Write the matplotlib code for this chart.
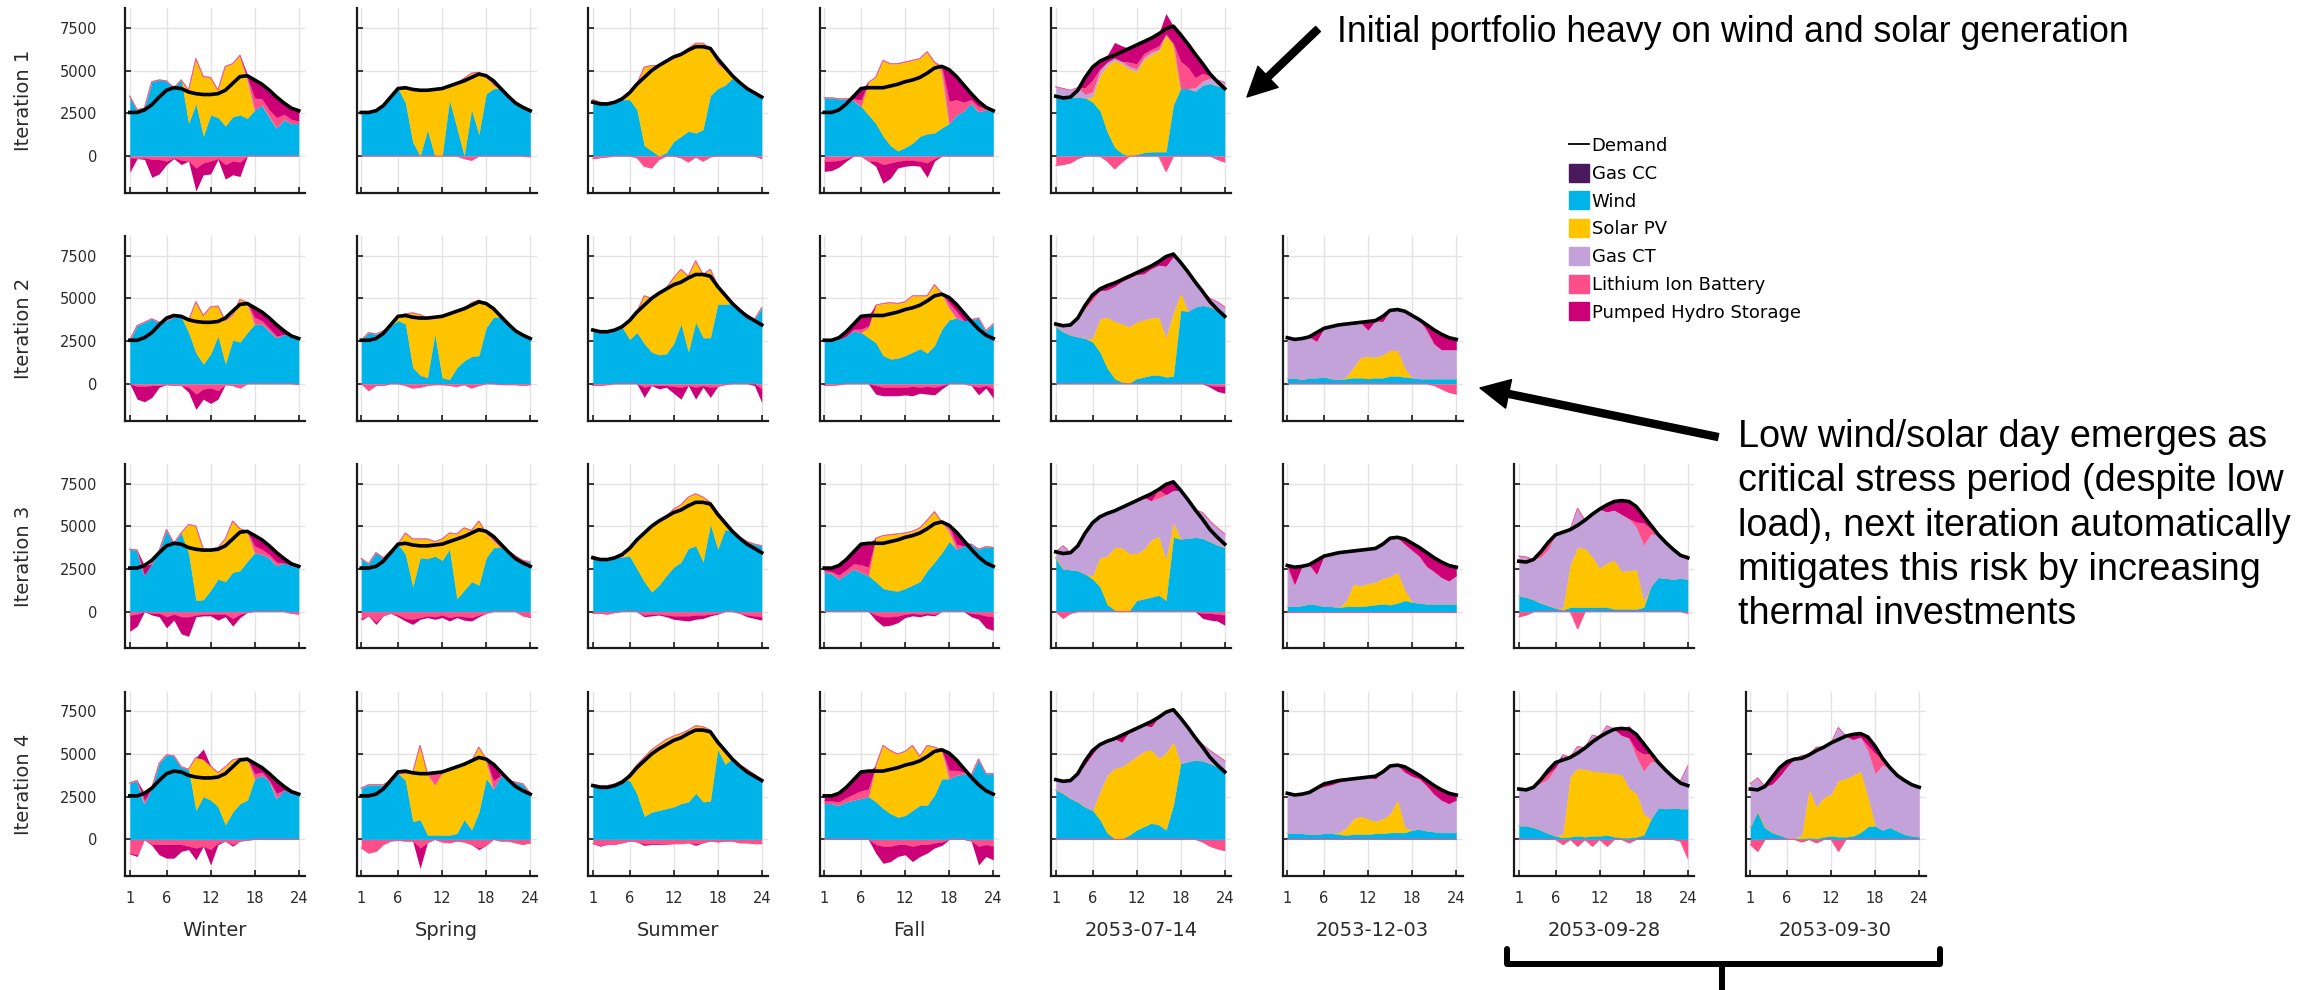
import numpy as np
import matplotlib
matplotlib.use('Agg')
import matplotlib.pyplot as plt
from matplotlib.patches import Patch, FancyArrowPatch
from matplotlib.lines import Line2D

plt.rcParams['font.family'] = 'DejaVu Sans'

W, H = 2306, 990

hours = np.arange(1, 25)
periods = ['Winter', 'Spring', 'Summer', 'Fall', '2053-07-14', '2053-12-03', '2053-09-28', '2053-09-30']
iterations = ['Iteration 1', 'Iteration 2', 'Iteration 3', 'Iteration 4']
hour_ticks = [1, 6, 12, 18, 24]
mw_ticks = [0, 2500, 5000, 7500]

# demand (MW), same in every iteration
demand_winter = [2550, 2550, 2700, 3000, 3450, 3850, 4000, 3950, 3750, 3650, 3600, 3600, 3650, 3850, 4250, 4650, 4700, 4450, 4200, 3850, 3450, 3100, 2800, 2650]
demand_spring = [2550, 2550, 2650, 2950, 3450, 3950, 4000, 3900, 3850, 3850, 3900, 3950, 4100, 4250, 4400, 4600, 4800, 4700, 4400, 3950, 3500, 3100, 2850, 2650]
demand_summer = [3150, 3050, 3050, 3150, 3350, 3700, 4200, 4600, 5000, 5300, 5550, 5800, 5950, 6200, 6400, 6400, 6300, 5700, 5200, 4700, 4300, 3950, 3700, 3450]
demand_fall = [2550, 2550, 2700, 3050, 3500, 3950, 4000, 4000, 4000, 4100, 4200, 4350, 4450, 4600, 4850, 5150, 5250, 5050, 4650, 4150, 3650, 3200, 2850, 2650]
demand_jul14 = [3500, 3400, 3450, 3850, 4600, 5200, 5550, 5750, 5900, 6100, 6300, 6500, 6700, 6900, 7150, 7450, 7600, 7100, 6550, 5950, 5400, 4800, 4350, 3950]
demand_dec03 = [2700, 2600, 2650, 2750, 3000, 3250, 3350, 3450, 3500, 3550, 3600, 3650, 3700, 3950, 4300, 4350, 4250, 4000, 3750, 3450, 3150, 2900, 2700, 2600]
demand_sep28 = [2950, 2900, 3050, 3500, 4050, 4500, 4650, 4800, 5050, 5350, 5700, 6000, 6250, 6450, 6500, 6450, 6150, 5600, 5050, 4500, 4050, 3650, 3300, 3150]
demand_sep30 = [2950, 2900, 3100, 3650, 4200, 4550, 4700, 4750, 4950, 5200, 5400, 5650, 5850, 6050, 6150, 6200, 6000, 5450, 4750, 4200, 3750, 3450, 3200, 3050]

# iteration 1  (storage: + discharge, - charge)
wind_1_winter = [3500, 2700, 2800, 4350, 4450, 4400, 4000, 4450, 1900, 3050, 1150, 2400, 2250, 1750, 2300, 2400, 2200, 2700, 3000, 2300, 1650, 2150, 1900, 1900]
solar_1_winter = [0, 0, 0, 0, 0, 0, 0, 0, 1950, 2650, 3500, 2200, 1600, 3500, 3100, 3500, 2300, 0, 0, 0, 0, 0, 0, 0]
bat_1_winter = [-100, -150, -100, -200, -200, -300, -100, -250, -300, -700, -400, -300, -150, -500, -300, -350, 100, 700, 350, 400, 600, 300, 250, 150]
phs_1_winter = [-850, 0, -100, -1050, -850, -200, -50, -250, 0, -1350, -700, -750, -50, -850, -800, -850, 200, 1050, 850, 1150, 1200, 650, 650, 600]

wind_1_spring = [2550, 2550, 2650, 2950, 3450, 3950, 3100, 800, 0, 1500, 0, 0, 3250, 1650, 0, 2700, 1250, 3650, 3950, 3950, 3500, 3100, 2850, 2650]
solar_1_spring = [0, 0, 0, 0, 0, 0, 900, 3100, 3850, 2350, 3900, 3950, 850, 2600, 4550, 2150, 3650, 1000, 200, 0, 0, 0, 0, 0]
bat_1_spring = [0, 0, 0, 0, 0, 0, 0, 0, 0, 0, 0, 0, 0, 0, -150, -250, 0, 100, 250, 0, 0, 0, 0, -50]

wind_1_summer = [3300, 3150, 3050, 3150, 3300, 3300, 2700, 600, 300, 0, 200, 850, 1150, 1450, 1350, 1550, 3550, 3950, 4150, 4550, 4300, 3950, 3700, 3450]
solar_1_summer = [0, 0, 0, 0, 0, 400, 1500, 4600, 5000, 5300, 5300, 4950, 4800, 4850, 5250, 5050, 2750, 1450, 900, 150, 0, 0, 0, 0]
bat_1_summer = [-150, -100, -50, 0, 0, 0, -100, -600, -700, -200, 0, 0, -100, -350, -50, -300, -50, 200, 150, 0, 0, 0, 0, -150]
phs_1_summer = [0, 0, 0, 0, 0, 0, 0, 0, 0, 0, 0, 0, 0, 0, 0, 0, 0, 100, 0, 0, 0, 0, 0, 0]

wind_1_fall = [3400, 3400, 3350, 3350, 3250, 2900, 2400, 1900, 1150, 600, 300, 500, 750, 1150, 1300, 1350, 1650, 1900, 2400, 2650, 3100, 2600, 2700, 2600]
solar_1_fall = [0, 0, 0, 0, 0, 0, 1900, 2700, 4450, 4800, 5100, 5000, 4850, 4550, 4800, 4150, 3300, 0, 0, 0, 0, 0, 0, 0]
bat_1_fall = [-300, -300, -250, -150, 100, 400, -300, -300, -500, -400, -300, -250, -250, -300, -400, -150, 300, 1300, 900, 500, 200, 300, 100, 0]
phs_1_fall = [-600, -550, -400, -150, 150, 650, 0, -300, -1100, -900, -400, -350, -300, -300, -850, -150, 0, 1800, 1350, 1000, 400, 300, 100, 50]

wind_1_jul14 = [3550, 3450, 3450, 3450, 3400, 3150, 2650, 1400, 500, 150, 0, 100, 200, 250, 250, 250, 3000, 3950, 3950, 3800, 4150, 4250, 4100, 4000]
solar_1_jul14 = [0, 0, 0, 0, 0, 300, 2050, 3900, 5100, 5250, 5100, 4850, 5450, 5700, 5900, 6800, 3600, 0, 0, 0, 0, 0, 0, 0]
gas_1_jul14 = [500, 500, 400, 550, 200, 300, 300, 200, 150, 150, 150, 150, 150, 150, 100, 100, 0, 0, 0, 200, 250, 300, 350, 300]
bat_1_jul14 = [-550, -500, -400, -150, 400, 700, 100, -300, -750, -350, 250, 300, 200, 150, 200, -900, 0, 1600, 1250, 600, 450, 150, -200, -350]
phs_1_jul14 = [0, 0, 0, 0, 600, 750, 450, 400, 900, 900, 800, 1100, 700, 650, 700, 1200, 1000, 1550, 1350, 1350, 550, 100, 0, 0]

# iteration 2
wind_2_winter = [2550, 3400, 3600, 3800, 3600, 3700, 3900, 3900, 3000, 1800, 1150, 1750, 2800, 1150, 2550, 2450, 3000, 3500, 3500, 3100, 2700, 2900, 2800, 2700]
solar_2_winter = [0, 0, 0, 0, 0, 0, 0, 0, 700, 3000, 2850, 2750, 1750, 2550, 1450, 2500, 1750, 0, 0, 0, 0, 0, 0, 0]
bat_2_winter = [0, -150, -150, -100, -100, -50, -100, -100, -200, -600, -300, -250, -400, -50, -100, -250, 0, 400, 200, 150, 100, 0, 0, -50]
phs_2_winter = [0, -750, -900, -700, -100, 0, 0, 0, -300, -900, -600, -900, -500, 0, 0, 0, 0, 550, 500, 600, 650, 200, 0, 0]

wind_2_spring = [2550, 3000, 2900, 3100, 3400, 3700, 3500, 950, 500, 350, 2900, 350, 250, 950, 1350, 1600, 1650, 3300, 3900, 3900, 3500, 3100, 2850, 2650]
solar_2_spring = [0, 0, 0, 0, 0, 250, 600, 3200, 3550, 3500, 1000, 3600, 3850, 3350, 3050, 3150, 3250, 1400, 500, 0, 0, 0, 0, 0]
bat_2_spring = [0, -400, -100, -100, 0, 0, -100, -250, -200, -100, -50, -50, -100, -150, -50, -250, -100, 0, 0, -50, -50, -50, -100, -50]

wind_2_summer = [3200, 3100, 3050, 3150, 3300, 2600, 3000, 2350, 1850, 1700, 1750, 2350, 3500, 1850, 3600, 2700, 2700, 4650, 4650, 4700, 4300, 4050, 3750, 4450]
solar_2_summer = [0, 0, 0, 0, 0, 1100, 1200, 2800, 3150, 3600, 3850, 3850, 3200, 4450, 3600, 3700, 4000, 1100, 550, 0, 0, 0, 0, 0]
bat_2_summer = [-100, -100, -50, 0, 0, 0, 0, -200, -100, -100, -100, -150, -200, -100, -200, -100, -200, -150, -50, 0, 0, 0, 0, -300]
phs_2_summer = [0, 0, 0, 0, 0, 0, 0, -600, 0, -200, -100, -400, -700, 0, -700, -100, -600, 0, 0, 0, 0, 0, -100, -800]

wind_2_fall = [2550, 2550, 2600, 2800, 3100, 3000, 2700, 2400, 1650, 1450, 1500, 1650, 1850, 2050, 1800, 2250, 3200, 3750, 3850, 3700, 3750, 3850, 3100, 3500]
solar_2_fall = [0, 0, 0, 0, 0, 0, 600, 2200, 3050, 3300, 3200, 3150, 3300, 3100, 3350, 3550, 2100, 700, 0, 0, 0, 0, 0, 0]
bat_2_fall = [-100, -100, -50, 0, 100, 200, 100, -100, -200, -200, -200, -200, -150, -200, -150, -200, -100, 300, 400, 0, -100, -200, -100, -300]
phs_2_fall = [0, 0, 0, 250, 300, 750, 600, -500, -500, -500, -500, -450, -550, -350, -450, -450, -200, 300, 400, 450, 0, -450, -150, -550]

wind_2_jul14 = [3350, 3050, 2850, 2750, 2650, 2450, 1850, 900, 300, 100, 50, 300, 400, 500, 500, 400, 450, 4300, 4250, 4500, 4600, 4500, 4300, 4100]
solar_2_jul14 = [0, 0, 0, 0, 0, 200, 1950, 3000, 3350, 3400, 3300, 3300, 3350, 3350, 3400, 2300, 3700, 1000, 0, 0, 0, 0, 0, 0]
gas_2_jul14 = [150, 350, 600, 1100, 1750, 2250, 1650, 1600, 2050, 2500, 2850, 2800, 2700, 2900, 3050, 4200, 3300, 1800, 2300, 1450, 700, 500, 500, 400]
bat_2_jul14 = [0, 0, 0, 0, 100, 150, 0, 0, 0, 0, 0, 0, 0, 0, 0, 0, 0, 0, 0, 0, 100, -100, -150, -150]
phs_2_jul14 = [0, 0, 0, 0, 100, 150, 100, 250, 200, 100, 100, 100, 250, 150, 200, 550, 150, 0, 0, 0, 0, -100, -300, -400]

wind_2_dec03 = [300, 350, 250, 350, 350, 400, 300, 250, 300, 350, 350, 300, 350, 350, 450, 450, 400, 350, 300, 300, 300, 300, 300, 300]
solar_2_dec03 = [0, 0, 0, 0, 0, 0, 0, 0, 100, 600, 1200, 1300, 1200, 1350, 1500, 1500, 500, 0, 0, 0, 0, 0, 0, 0]
gas_2_dec03 = [2400, 2250, 2400, 2400, 2150, 2850, 3050, 3200, 3100, 2600, 2050, 1550, 2150, 1950, 2350, 2400, 3350, 3650, 3450, 2850, 2050, 1700, 1700, 1700]
bat_2_dec03 = [0, 0, 0, 0, 0, 0, 0, 0, 0, 0, 0, 0, 0, 0, 0, 0, 0, 0, 0, 0, -100, -300, -500, -600]
phs_2_dec03 = [0, 0, 0, 0, 500, 0, 0, 0, 0, 0, 0, 500, 0, 300, 0, 0, 0, 0, 0, 300, 800, 900, 700, 600]

# iteration 3
wind_3_winter = [3650, 3600, 2150, 2800, 3550, 4800, 4000, 4600, 3400, 650, 700, 1250, 1900, 1750, 2300, 2400, 2950, 3450, 3350, 3150, 2700, 2850, 2700, 2600]
solar_3_winter = [0, 0, 0, 0, 0, 0, 0, 0, 1700, 4350, 2950, 2400, 1850, 2500, 3000, 2450, 1750, 0, 0, 0, 0, 0, 0, 0]
bat_3_winter = [-200, -150, 0, -100, -100, -300, -150, -300, -300, -200, -150, -150, -150, -150, -400, -150, -50, 400, 300, 200, 200, 0, -100, -150]
phs_3_winter = [-950, -700, 550, -100, -200, -650, -350, -1000, -1150, -100, -100, -100, -350, -150, -450, -200, 0, 600, 550, 500, 550, 250, 100, 0]

wind_3_spring = [3100, 2800, 3450, 3150, 3550, 3950, 3350, 1450, 3150, 3100, 3250, 3000, 3650, 750, 1250, 1750, 1550, 3150, 3750, 3750, 3550, 3250, 3000, 2900]
solar_3_spring = [0, 0, 0, 0, 0, 0, 1250, 2800, 1100, 1150, 850, 1250, 950, 3800, 3650, 3000, 3750, 1450, 400, 0, 0, 0, 0, 0]
bat_3_spring = [-400, -250, -600, -250, -100, -200, -400, -450, -350, -250, -300, -200, -350, -250, -300, -350, -200, -100, 250, 0, 0, 0, -250, -300]
phs_3_spring = [-100, 0, -150, 0, 0, -100, -150, -300, -100, -100, -150, -150, -200, -100, -200, -200, -100, 0, 0, 0, 0, 0, 0, -50]

wind_3_summer = [3250, 3100, 3050, 3150, 3200, 3250, 2500, 1750, 1150, 1550, 2100, 2600, 2900, 3700, 3850, 2900, 5100, 3650, 4800, 4700, 4350, 4100, 3950, 3850]
solar_3_summer = [0, 0, 0, 0, 0, 450, 1700, 2850, 3850, 3750, 3450, 3400, 3350, 3000, 3050, 3800, 1300, 2150, 500, 0, 0, 0, 0, 0]
bat_3_summer = [-100, -100, -150, -50, 0, 0, 0, -200, -150, -150, -200, -250, -250, -250, -200, -200, -150, -100, 0, 0, -100, -200, -250, -300]
phs_3_summer = [0, 0, 0, 0, 0, 0, 0, -100, -100, -50, -100, -200, -250, -300, -250, -200, -100, -50, 0, 0, 0, -100, -150, -200]

wind_3_fall = [2300, 2250, 1900, 2200, 2500, 2300, 2100, 1750, 1350, 1250, 1200, 1350, 1550, 1750, 2400, 2900, 3450, 4100, 3650, 3850, 3950, 3650, 3800, 3750]
solar_3_fall = [0, 0, 0, 0, 0, 0, 0, 2550, 3100, 3250, 3350, 3250, 3150, 3150, 2950, 2950, 1800, 600, 0, 0, 0, 0, 0, 0]
bat_3_fall = [100, 100, 250, 250, 300, 450, 500, -200, -300, -300, -250, -150, -100, -150, -100, -150, 0, 300, 300, 0, -100, -150, -250, -300]
phs_3_fall = [150, 200, 550, 600, 700, 1200, 1400, -300, -550, -500, -400, -200, -150, -150, -100, -100, 0, 0, 700, 300, -200, -300, -700, -800]

wind_3_jul14 = [3150, 2500, 2450, 2400, 2200, 1900, 1450, 400, 100, 50, 50, 650, 750, 850, 950, 650, 4350, 4250, 4300, 4350, 4300, 4100, 3900, 3750]
solar_3_jul14 = [0, 0, 0, 0, 0, 200, 1700, 2850, 3650, 3700, 3350, 2750, 2900, 3350, 3450, 2400, 850, 0, 0, 0, 0, 0, 0, 0]
gas_3_jul14 = [350, 1350, 1000, 1450, 2400, 3100, 2400, 2500, 2150, 2350, 2900, 3100, 3050, 2300, 2250, 3800, 1900, 2850, 2250, 1600, 1500, 1200, 1000, 800]
bat_3_jul14 = [0, -400, -100, 0, 0, 0, 0, 0, 0, 0, 0, 0, 0, 0, 500, 0, 0, 0, 0, 0, -100, -100, -150, -200]
phs_3_jul14 = [0, 0, 0, 0, 0, 0, 0, 0, 0, 0, 0, 0, 0, 400, 0, 600, 500, 0, 0, 0, -300, -400, -400, -600]

wind_3_dec03 = [300, 300, 350, 450, 400, 300, 300, 250, 300, 300, 300, 350, 400, 450, 400, 500, 650, 550, 500, 450, 450, 450, 450, 450]
solar_3_dec03 = [0, 0, 0, 0, 0, 0, 0, 0, 300, 1300, 1200, 1300, 1300, 1500, 1650, 1800, 600, 0, 0, 0, 0, 0, 0, 0]
gas_3_dec03 = [2400, 1300, 2300, 2300, 1800, 2950, 3050, 3200, 2900, 1950, 2100, 2000, 2000, 2000, 2250, 2050, 2700, 3050, 2750, 2200, 1900, 1550, 1350, 1650]
phs_3_dec03 = [0, 1000, 0, 0, 800, 0, 0, 0, 0, 0, 0, 0, 0, 0, 0, 0, 300, 400, 500, 800, 800, 900, 900, 500]

wind_3_sep28 = [900, 850, 700, 500, 350, 200, 100, 250, 250, 250, 250, 250, 250, 150, 150, 150, 150, 250, 1500, 2000, 1950, 1900, 1950, 1900]
solar_3_sep28 = [0, 0, 0, 0, 0, 0, 100, 2500, 3500, 3450, 2950, 2300, 2600, 2850, 2200, 2250, 2300, 350, 0, 0, 0, 0, 0, 0]
gas_3_sep28 = [2350, 2350, 2350, 2700, 3300, 4300, 4450, 2050, 2300, 1650, 2500, 3450, 3000, 2950, 3350, 3050, 2500, 3300, 3050, 2500, 2100, 1750, 1350, 1350]
bat_3_sep28 = [-300, -200, 0, 300, 400, 0, 0, 0, -1000, 0, 0, 0, 0, 0, 0, 0, 300, 1300, 300, 0, 0, 0, 0, -100]
phs_3_sep28 = [0, 0, 0, 0, 0, 0, 0, 0, 0, 0, 0, 0, 400, 500, 800, 1000, 900, 400, 200, 0, 0, 0, 0, 0]

# iteration 4
wind_4_winter = [3300, 3450, 2100, 3000, 4450, 4950, 4900, 4250, 4100, 1700, 2500, 2300, 1900, 850, 1600, 2100, 2300, 3550, 3750, 3450, 2400, 2900, 2700, 2600]
solar_4_winter = [0, 0, 0, 0, 0, 0, 0, 0, 0, 3100, 2200, 2000, 2000, 3400, 3050, 2650, 2450, 0, 0, 0, 0, 0, 0, 0]
bat_4_winter = [-800, -900, 200, -300, -300, -300, -300, -300, -400, -500, -400, -600, -200, -100, -300, -100, -50, 300, 200, 0, 300, 0, 0, 0]
phs_4_winter = [-50, -100, 400, -50, -600, -800, -800, -400, -200, -700, 600, -900, -100, 0, -100, 0, 0, 600, 250, 400, 750, 200, 100, 50]

wind_4_spring = [3000, 3200, 3200, 3200, 3450, 3850, 3450, 1050, 1150, 250, 250, 250, 250, 350, 1150, 550, 1600, 3550, 2950, 3750, 3450, 3350, 3250, 2700]
solar_4_spring = [0, 0, 0, 0, 0, 0, 400, 2850, 4350, 3600, 2950, 3650, 3900, 3850, 3300, 4000, 3800, 1150, 0, 0, 0, 0, 0, 0]
bat_4_spring = [-500, -800, -700, -300, -100, -50, -100, -100, -500, -200, 700, -150, -200, -100, -150, -300, -500, -350, 500, -100, -100, -200, -300, -200]
phs_4_spring = [0, 0, 0, 0, 0, 0, 0, 0, -1200, 0, 0, 0, 0, 0, 0, 0, -100, 0, 950, 0, 0, 0, 0, 0]

wind_4_summer = [3200, 3150, 3150, 3250, 3450, 3450, 2650, 1350, 1600, 1700, 1800, 1900, 2100, 2200, 2700, 2200, 2250, 5250, 4400, 4750, 4350, 4100, 3800, 3500]
solar_4_summer = [0, 0, 0, 0, 0, 350, 1700, 3450, 3650, 3850, 4050, 4150, 4100, 4200, 3950, 4400, 4150, 450, 700, 0, 0, 0, 0, 0]
bat_4_summer = [-250, -350, -300, -300, -200, -100, -150, -250, -250, -250, -300, -250, -250, -200, -250, -200, -100, -150, -100, -100, -200, -200, -250, -250]
phs_4_summer = [0, -50, 0, 0, 0, 0, 0, -100, -50, -50, 0, 0, 0, 0, -100, 0, 0, 0, 0, 0, 0, 0, 0, 0]

wind_4_fall = [2100, 2100, 2000, 2200, 2300, 2400, 2500, 2200, 1800, 1500, 1300, 1400, 1700, 2000, 2000, 2600, 3550, 3550, 3750, 3850, 3750, 4700, 3850, 3850]
solar_4_fall = [0, 0, 0, 0, 0, 0, 0, 2100, 3700, 3700, 3700, 3750, 3800, 2850, 3500, 2800, 1700, 0, 0, 0, 0, 0, 0, 0]
bat_4_fall = [150, 150, 200, 250, 350, 450, 450, -300, -400, -400, -300, -300, -400, -300, -300, -200, -150, 500, 300, 100, -100, -400, -300, -400]
phs_4_fall = [300, 300, 500, 600, 850, 1100, 1050, -500, -1000, -900, -700, -600, -900, -700, -500, -300, -200, 1000, 600, 200, 0, -1100, -700, -800]

wind_4_jul14 = [2900, 2700, 2400, 2200, 1900, 1700, 1150, 350, 50, 50, 250, 550, 750, 950, 850, 550, 2000, 4450, 4550, 4650, 4600, 4450, 4250, 4050]
solar_4_jul14 = [0, 0, 0, 0, 0, 0, 1600, 3400, 4100, 4200, 4300, 4300, 4400, 4300, 3900, 4500, 3700, 0, 0, 0, 0, 0, 0, 0]
gas_4_jul14 = [600, 700, 1050, 1650, 2500, 3300, 2800, 2000, 1750, 1450, 1750, 1650, 1550, 1350, 2400, 2400, 1900, 2650, 2000, 1300, 950, 750, 650, 550]
bat_4_jul14 = [0, 0, 0, 0, 0, 0, 0, 0, 0, 0, 0, 0, 0, 0, 0, 0, 0, 0, 0, 0, -150, -400, -550, -650]
phs_4_jul14 = [0, 0, 0, 0, 200, 200, 0, 0, 0, 400, 0, 0, 0, 300, 0, 0, 0, 0, 0, 0, 0, 0, 0, 0]

wind_4_dec03 = [350, 350, 350, 300, 300, 350, 350, 300, 250, 300, 300, 300, 350, 350, 400, 400, 400, 550, 600, 500, 450, 400, 400, 400]
solar_4_dec03 = [0, 0, 0, 0, 0, 0, 0, 100, 400, 900, 1050, 900, 700, 850, 1100, 1900, 300, 0, 0, 0, 0, 0, 0, 0]
gas_4_dec03 = [2350, 2250, 2300, 2450, 2700, 2750, 2850, 2950, 2850, 2350, 2250, 2450, 2500, 2750, 2800, 2050, 3250, 3150, 2950, 2650, 2200, 1900, 1700, 1900]
phs_4_dec03 = [0, 0, 0, 0, 0, 150, 150, 100, 0, 0, 0, 0, 150, 0, 0, 0, 300, 300, 200, 300, 500, 600, 600, 300]

wind_4_sep28 = [800, 800, 700, 550, 350, 200, 100, 150, 200, 150, 200, 200, 250, 150, 100, 100, 150, 250, 1200, 1850, 1800, 1850, 1800, 1800]
solar_4_sep28 = [0, 0, 0, 0, 0, 0, 200, 3550, 3950, 3950, 3800, 3750, 3650, 3700, 3700, 2900, 2550, 1250, 0, 0, 0, 0, 0, 0]
gas_4_sep28 = [2150, 2100, 2350, 2750, 3200, 4000, 4650, 1100, 1300, 1250, 2100, 2050, 2750, 2600, 2300, 2950, 2150, 2500, 3350, 2650, 2250, 1800, 1600, 2500]
bat_4_sep28 = [0, 0, 0, 200, 300, 0, -300, 0, -400, 0, -400, 0, -400, 0, 0, -200, 400, 1000, 500, 0, 0, 0, -100, -1100]
phs_4_sep28 = [0, 0, 0, 0, 200, 300, 0, 0, 0, 0, 0, 0, 0, 0, 400, 700, 900, 600, 0, 0, 0, 0, 0, 0]

wind_4_sep30 = [700, 1650, 700, 400, 250, 100, 50, 50, 100, 50, 150, 200, 150, 150, 200, 400, 750, 800, 550, 700, 500, 300, 200, 150]
solar_4_sep30 = [0, 0, 0, 0, 0, 0, 0, 200, 2800, 1850, 2300, 2450, 3300, 3400, 3550, 3600, 1750, 0, 0, 0, 0, 0, 0, 0]
gas_4_sep30 = [2550, 1950, 2400, 2850, 3450, 4150, 4650, 4650, 2050, 3500, 2950, 3000, 3100, 2500, 2100, 2000, 2700, 3050, 3800, 3500, 3250, 3150, 3000, 2900]
bat_4_sep30 = [-300, -700, 0, 0, 0, 0, 0, -150, 0, -200, 0, 0, -700, 0, 0, 0, 300, 1200, 400, 0, 0, 0, 0, 0]
phs_4_sep30 = [0, 0, 0, 400, 500, 300, 0, 0, 0, 0, 0, 0, 0, 0, 300, 200, 500, 400, 0, 0, 0, 0, 0, 0]

demands = [demand_winter, demand_spring, demand_summer, demand_fall,
           demand_jul14, demand_dec03, demand_sep28, demand_sep30]

# (wind, solar, gas CT, battery, pumped hydro) per panel, one row per iteration
panels = [
    [(wind_1_winter, solar_1_winter, None, bat_1_winter, phs_1_winter),
     (wind_1_spring, solar_1_spring, None, bat_1_spring, None),
     (wind_1_summer, solar_1_summer, None, bat_1_summer, phs_1_summer),
     (wind_1_fall, solar_1_fall, None, bat_1_fall, phs_1_fall),
     (wind_1_jul14, solar_1_jul14, gas_1_jul14, bat_1_jul14, phs_1_jul14)],
    [(wind_2_winter, solar_2_winter, None, bat_2_winter, phs_2_winter),
     (wind_2_spring, solar_2_spring, None, bat_2_spring, None),
     (wind_2_summer, solar_2_summer, None, bat_2_summer, phs_2_summer),
     (wind_2_fall, solar_2_fall, None, bat_2_fall, phs_2_fall),
     (wind_2_jul14, solar_2_jul14, gas_2_jul14, bat_2_jul14, phs_2_jul14),
     (wind_2_dec03, solar_2_dec03, gas_2_dec03, bat_2_dec03, phs_2_dec03)],
    [(wind_3_winter, solar_3_winter, None, bat_3_winter, phs_3_winter),
     (wind_3_spring, solar_3_spring, None, bat_3_spring, phs_3_spring),
     (wind_3_summer, solar_3_summer, None, bat_3_summer, phs_3_summer),
     (wind_3_fall, solar_3_fall, None, bat_3_fall, phs_3_fall),
     (wind_3_jul14, solar_3_jul14, gas_3_jul14, bat_3_jul14, phs_3_jul14),
     (wind_3_dec03, solar_3_dec03, gas_3_dec03, None, phs_3_dec03),
     (wind_3_sep28, solar_3_sep28, gas_3_sep28, bat_3_sep28, phs_3_sep28)],
    [(wind_4_winter, solar_4_winter, None, bat_4_winter, phs_4_winter),
     (wind_4_spring, solar_4_spring, None, bat_4_spring, phs_4_spring),
     (wind_4_summer, solar_4_summer, None, bat_4_summer, phs_4_summer),
     (wind_4_fall, solar_4_fall, None, bat_4_fall, phs_4_fall),
     (wind_4_jul14, solar_4_jul14, gas_4_jul14, bat_4_jul14, phs_4_jul14),
     (wind_4_dec03, solar_4_dec03, gas_4_dec03, None, phs_4_dec03),
     (wind_4_sep28, solar_4_sep28, gas_4_sep28, bat_4_sep28, phs_4_sep28),
     (wind_4_sep30, solar_4_sep30, gas_4_sep30, bat_4_sep30, phs_4_sep30)],
]

c_gascc = '#4b1a5e'
c_wind = '#00b4ea'
c_solar = '#ffc400'
c_gasct = '#c3a1d9'
c_lib = '#ff4f8b'
c_phs = '#cc0077'


def fx(px):
    return px / W


def fy(py):
    return 1 - py / H


def draw_panel(ax, demand, wind, solar, gas, bat, phs):
    zero = np.zeros(len(hours))
    arr = lambda v: zero if v is None else np.asarray(v, dtype=float)
    wind, solar, gas, bat, phs = arr(wind), arr(solar), arr(gas), arr(bat), arr(phs)
    # generation stacked upwards
    layers = [(zero, c_gascc), (wind, c_wind), (solar, c_solar), (gas, c_gasct),
              (np.clip(bat, 0, None), c_lib), (np.clip(phs, 0, None), c_phs)]
    base = zero
    for vals, col in layers:
        top = base + vals
        ax.fill_between(hours, base, top, color=col, lw=0, zorder=2)
        if col not in (c_gascc, c_phs):
            ax.plot(hours, top, color=col, lw=0.7, zorder=2)
        base = top
    # charging stacked downwards
    base = zero
    for vals, col in [(np.clip(bat, None, 0), c_lib), (np.clip(phs, None, 0), c_phs)]:
        top = base + vals
        ax.fill_between(hours, base, top, color=col, lw=0, zorder=2)
        if col == c_lib:
            ax.plot(hours, top, color=col, lw=0.7, zorder=2)
        base = top
    ax.plot(hours, demand, color='black', lw=2.6, zorder=3)


fig = plt.figure(figsize=(W / 100, H / 100), dpi=100)

ax_w, ax_h = 180, 184.4
for r, row in enumerate(panels):
    for c, p in enumerate(row):
        left = 125 + c * 231.5
        top = 8.3 + r * 227.8
        ax = fig.add_axes([fx(left), fy(top + ax_h), ax_w / W, ax_h / H])
        draw_panel(ax, demands[c], *p)
        ax.set_xlim(0.35, 24.85)
        ax.set_ylim(-2150, 8650)
        ax.set_xticks(hour_ticks)
        ax.set_yticks(mw_ticks)
        ax.grid(True, color='#e3e3e3', lw=1.0)
        ax.set_axisbelow(True)
        for s in ['top', 'right']:
            ax.spines[s].set_visible(False)
        for s in ['left', 'bottom']:
            ax.spines[s].set_linewidth(1.6)
            ax.spines[s].set_color('#1a1a1a')
            ax.spines[s].set_zorder(4)
        ax.tick_params(direction='in', length=4, width=1.2, color='#1a1a1a',
                       labelsize=10.5, labelcolor='#2a2a2a')
        ax.tick_params(axis='y', pad=20)
        ax.tick_params(axis='x', pad=11)
        if c == 0:
            ax.set_ylabel(iterations[r], fontsize=14, color='#2a2a2a')
            ax.yaxis.set_label_coords(-0.513, 0.5)
        else:
            ax.tick_params(labelleft=False)
        if r == 3:
            ax.set_xlabel(periods[c], fontsize=14, color='#2a2a2a', labelpad=10.5)
        else:
            ax.tick_params(labelbottom=False)

# legend
handles = [Line2D([], [], color='black', lw=1.3),
           Patch(color=c_gascc), Patch(color=c_wind), Patch(color=c_solar),
           Patch(color=c_gasct), Patch(color=c_lib), Patch(color=c_phs)]
labels = ['Demand', 'Gas CC', 'Wind', 'Solar PV', 'Gas CT',
          'Lithium Ion Battery', 'Pumped Hydro Storage']
fig.legend(handles, labels, loc='upper left', bbox_to_anchor=(fx(1569), fy(136)),
           frameon=False, fontsize=13, handlelength=1.1, handleheight=1.15,
           handletextpad=0.15, labelspacing=0.48, borderpad=0, borderaxespad=0)

# annotations
fig.text(fx(1337), fy(42), 'Initial portfolio heavy on wind and solar generation',
         va='baseline', ha='left', family='Liberation Sans', fontsize=25.7, color='black')
note_lines = ['Low wind/solar day emerges as',
              'critical stress period (despite low',
              'load), next iteration automatically',
              'mitigates this risk by increasing',
              'thermal investments']
for i, line in enumerate(note_lines):
    fig.text(fx(1738), fy(447 + i * 44.3), line, va='baseline', ha='left',
             family='Liberation Sans', fontsize=27.2, color='black')

arrow_style = 'simple,head_length=1.0,head_width=1.0,tail_width=0.24'
for tail, tip in [((1318, 29), (1247, 97)), ((1718, 437), (1480, 388))]:
    fig.add_artist(FancyArrowPatch((fx(tail[0]), fy(tail[1])), (fx(tip[0]), fy(tip[1])),
                                   transform=fig.transFigure, arrowstyle=arrow_style,
                                   mutation_scale=21, color='black', shrinkA=0, shrinkB=0))

# bracket under the last two stress days
fig.add_artist(Line2D([fx(1507), fx(1507), fx(1940), fx(1940)],
                      [fy(949), fy(964), fy(964), fy(949)],
                      transform=fig.transFigure, color='black', lw=4.3,
                      solid_joinstyle='round', solid_capstyle='round'))
fig.add_artist(Line2D([fx(1722), fx(1722)], [fy(964), fy(992)],
                      transform=fig.transFigure, color='black', lw=4.3))

fig.savefig('out.png', dpi=100)
